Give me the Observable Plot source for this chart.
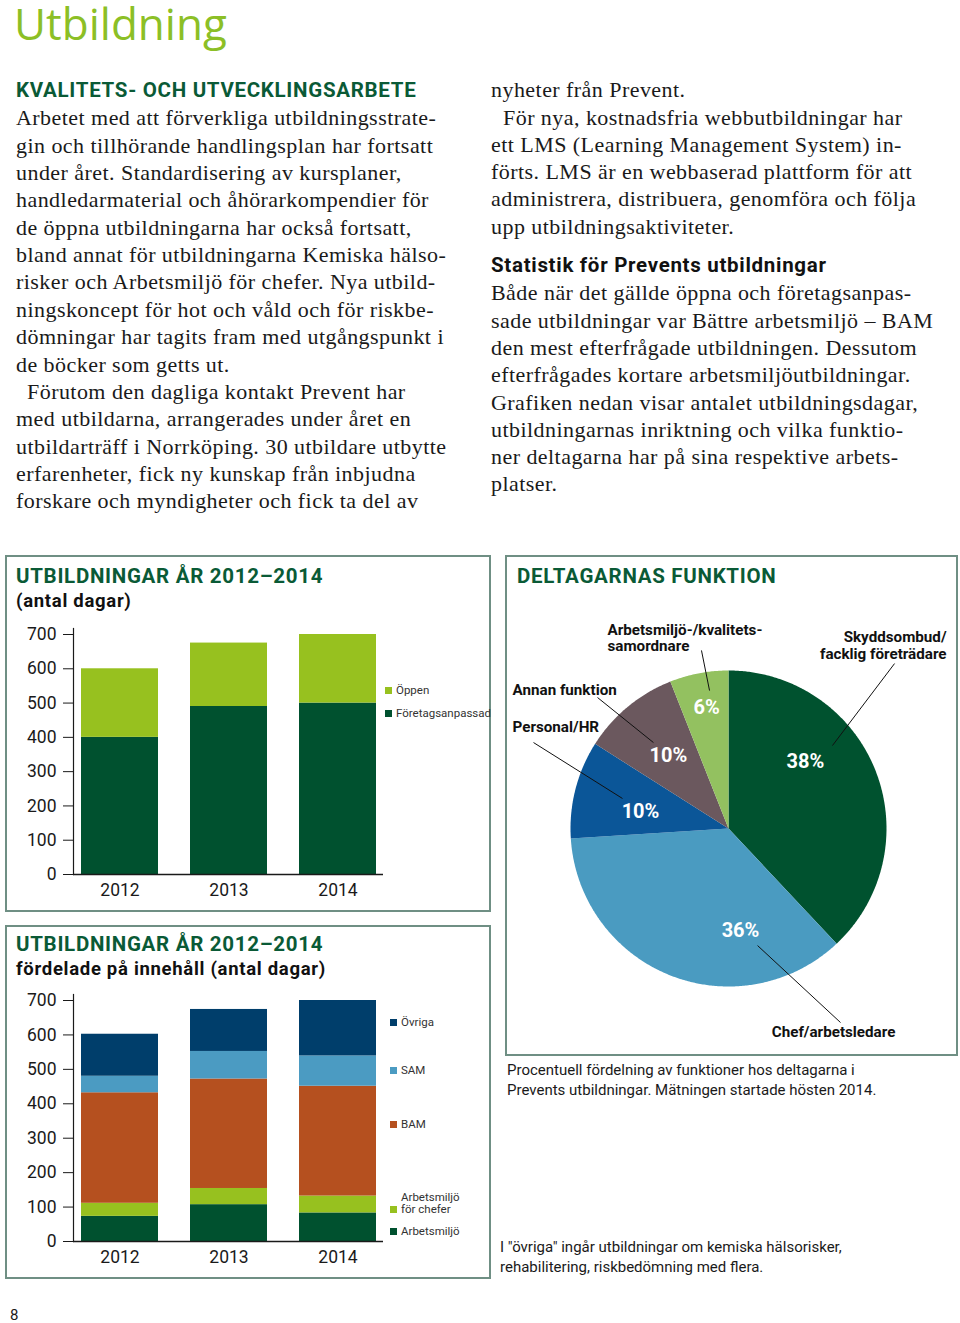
<!DOCTYPE html>
<html><head><meta charset="utf-8">
<script src="https://cdn.jsdelivr.net/npm/d3@7"></script>
<script src="https://cdn.jsdelivr.net/npm/@observablehq/plot@0.6"></script>
<style>
body{margin:0;background:#fff;}
#page{position:relative;width:960px;height:1323px;overflow:hidden;font-family:Roboto, sans-serif;color:#1a1a1a;}
.abs{position:absolute;white-space:nowrap;}
.serif{font-family:"Liberation Serif", serif;font-size:22px;letter-spacing:0.45px;color:#1a1a1a;}
.h{font-family:Roboto, sans-serif;font-weight:700;font-size:20.5px;letter-spacing:0.7px;color:#0a5a36;}
.sub{font-family:Roboto, sans-serif;font-weight:700;font-size:18.5px;letter-spacing:0.7px;color:#111;}
.box{position:absolute;border:2px solid #6f8f84;box-sizing:border-box;}
.leg{font-family:Roboto, sans-serif;font-size:11.5px;color:#333;line-height:12px;}
.sq{position:absolute;width:7px;height:7px;}
</style></head>
<body><div id="page"></div>
<script>
// ---------- DATA ----------
const years = ["2012", "2013", "2014"];
const yTicks = [0, 100, 200, 300, 400, 500, 600, 700];

// Chart 1: antal dagar
const typeNames = ["Företagsanpassad", "Öppen"];
const foretagsanpassad = [400, 490, 500];
const oppen = [200, 185, 200];
const typeColors = ["#00512f", "#97c11f"];

// Chart 2: fördelade på innehåll
const contentNames = ["Arbetsmiljö", "Arbetsmiljö för chefer", "BAM", "SAM", "Övriga"];
const contentLegend = ["Arbetsmiljö", "Arbetsmiljö<br>för chefer", "BAM", "SAM", "Övriga"];
const arbetsmiljo = [73, 107, 83];
const arbetsmiljoChefer = [38, 47, 49];
const bam = [321, 318, 319];
const sam = [48, 80, 88];
const ovriga = [122, 122, 161];
const contentColors = ["#00512f", "#97c11f", "#b5501f", "#4b9bc2", "#003e6b"];

// Pie: deltagarnas funktion (%)
const pieNames = ["Skyddsombud/\nfacklig företrädare", "Chef/arbetsledare", "Personal/HR", "Annan funktion", "Arbetsmiljö-/kvalitets-\nsamordnare"];
const pieValues = [38, 36, 10, 10, 6];
const pieColors = ["#00522f", "#4a9bc1", "#0b5698", "#6b585e", "#93c160"];

// ---------- LAYOUT (positions only) ----------
const pieLabelLayout = [
  {x: 1.380, y: 1.161, anchor: "end"},
  {x: 0.665, y: -1.285, anchor: "middle"},
  {x: -1.367, y: 0.646, anchor: "start"},
  {x: -1.367, y: 0.880, anchor: "start"},
  {x: -0.766, y: 1.206, anchor: "start"}
];
const piePctLayout = [[0.487, 0.424], [0.076, -0.646], [-0.557, 0.108], [-0.380, 0.462], [-0.139, 0.766]];
const pieLeaderLayout = [
  [1.051, 1.044, 0.658, 0.525],
  [0.184, -0.741, 0.709, -1.228],
  [-1.234, 0.544, -0.671, 0.190],
  [-0.829, 0.829, -0.475, 0.544],
  [-0.171, 1.127, -0.120, 0.873]
];

const page = document.getElementById("page");
function el(tag, cls, css, html) {
  const e = document.createElement(tag);
  if (cls) e.className = cls;
  Object.assign(e.style, css || {});
  if (html != null) e.innerHTML = html;
  page.appendChild(e);
  return e;
}
// yc = centre of the first line
function textAt(html, x, yc, lh, cls, css) {
  return el("div", "abs " + (cls || ""), Object.assign({left: x + "px", top: (yc - lh / 2) + "px", lineHeight: lh + "px"}, css || {}), html);
}

// ---------- PAGE TEXT ----------
el("div", "abs", {left: "14px", top: "1px", lineHeight: "44px", fontFamily: "'Open Sans', sans-serif", fontSize: "44px", color: "#8cbf26"}, "Utbildning");
textAt("KVALITETS- OCH UTVECKLINGSARBETE", 16, 90, 24, "h");
const leftLines = [
  "Arbetet med att förverkliga utbildningsstrate-",
  "gin och tillhörande handlingsplan har fortsatt",
  "under året. Standardisering av kursplaner,",
  "handledarmaterial och åhörarkompendier för",
  "de öppna utbildningarna har också fortsatt,",
  "bland annat för utbildningarna Kemiska hälso-",
  "risker och Arbetsmiljö för chefer. Nya utbild-",
  "ningskoncept för hot och våld och för riskbe-",
  "dömningar har tagits fram med utgångspunkt i",
  "de böcker som getts ut.",
  "<span style='padding-left:11px'></span>Förutom den dagliga kontakt Prevent har",
  "med utbildarna, arrangerades under året en",
  "utbildarträff i Norrköping. 30 utbildare utbytte",
  "erfarenheter, fick ny kunskap från inbjudna",
  "forskare och myndigheter och fick ta del av"
];
textAt(leftLines.join("<br>"), 16, 118, 27.36, "serif");
const rightLines1 = [
  "nyheter från Prevent.",
  "<span style='padding-left:12px'></span>För nya, kostnadsfria webbutbildningar har",
  "ett LMS (Learning Management System) in-",
  "förts. LMS är en webbaserad plattform för att",
  "administrera, distribuera, genomföra och följa",
  "upp utbildningsaktiviteter."
];
textAt(rightLines1.join("<br>"), 491, 90, 27.24, "serif");
textAt("Statistik för Prevents utbildningar", 491, 265, 24, "h", {color: "#111"});
const rightLines2 = [
  "Både när det gällde öppna och företagsanpas-",
  "sade utbildningar var Bättre arbetsmiljö – BAM",
  "den mest efterfrågade utbildningen. Dessutom",
  "efterfrågades kortare arbetsmiljöutbildningar.",
  "Grafiken nedan visar antalet utbildningsdagar,",
  "utbildningarnas inriktning och vilka funktio-",
  "ner deltagarna har på sina respektive arbets-",
  "platser."
];
textAt(rightLines2.join("<br>"), 491, 293, 27.3, "serif");

// ---------- BOXES ----------
el("div", "box", {left: "5px", top: "555px", width: "486px", height: "357px"});
el("div", "box", {left: "5px", top: "925px", width: "486px", height: "354px"});
el("div", "box", {left: "505px", top: "555px", width: "453px", height: "501px"});

textAt("UTBILDNINGAR ÅR 2012–2014", 16, 576, 24, "h");
textAt("(antal dagar)", 16, 601, 22, "sub");
textAt("UTBILDNINGAR ÅR 2012–2014", 16, 944, 24, "h");
textAt("fördelade på innehåll (antal dagar)", 16, 969, 22, "sub");
textAt("DELTAGARNAS FUNKTION", 517, 576, 24, "h");

textAt("Procentuell fördelning av funktioner hos deltagarna i<br>Prevents utbildningar. Mätningen startade hösten 2014.", 507, 1070, 20, "", {fontSize: "15px", color: "#1a1a1a"});
textAt("I \"övriga\" ingår utbildningar om kemiska hälsorisker,<br>rehabilitering, riskbedömning med flera.", 500, 1248, 19.5, "", {fontSize: "15px", color: "#1a1a1a"});
textAt("8", 10, 1315, 18, "", {fontSize: "15px", color: "#1a1a1a"});

// ---------- BAR CHARTS ----------
function barChart(series, names, colors, marginTop, marginBottom) {
  const rows = [];
  names.forEach((n, i) => years.forEach((y, j) => rows.push({year: y, cat: n, value: series[i][j]})));
  return Plot.plot({
    width: 490, height: 290,
    marginLeft: 73, marginRight: 107, marginTop, marginBottom,
    x: {domain: years, paddingInner: 0.29, paddingOuter: 0, insetLeft: 7, insetRight: 5, label: null},
    y: {domain: [0, 700], insetTop: 6, label: null},
    color: {domain: names, range: colors},
    marks: [
      Plot.barY(rows, {x: "year", y: "value", fill: "cat"}),
      Plot.axisY({ticks: yTicks, tickSize: 10, tickPadding: 7, label: null, tickFormat: d => String(d)}),
      Plot.axisX({tickSize: 0, tickPadding: 9, label: null}),
      Plot.ruleY([0], {stroke: "#1a1a1a", strokeWidth: 1.5}),
      Plot.frame({anchor: "left", stroke: "#1a1a1a", strokeWidth: 1.2})
    ],
    style: {fontFamily: "Roboto, sans-serif", fontSize: "17.5px", color: "#1a1a1a", background: "none", overflow: "visible"}
  });
}
const c1 = barChart([foretagsanpassad, oppen], typeNames, typeColors, 8, 36);
Object.assign(c1.style, {position: "absolute", left: "0px", top: "620px"});
page.appendChild(c1);
const c2 = barChart([arbetsmiljo, arbetsmiljoChefer, bam, sam, ovriga], contentNames, contentColors, 4, 39);
Object.assign(c2.style, {position: "absolute", left: "0px", top: "990px"});
page.appendChild(c2);

// legends
const leg1Y = [713, 690];
typeNames.forEach((n, i) => {
  el("div", "sq", {left: "385px", top: (leg1Y[i] - 3.5) + "px", background: typeColors[i]});
  textAt(n, 396, leg1Y[i], 12, "leg");
});
const leg2Y = [1231, 1197, 1124, 1070, 1022];
contentNames.forEach((n, i) => {
  el("div", "sq", {left: "390px", top: (leg2Y[i] + (i === 1 ? 12 : 0) - 3.5) + "px", background: contentColors[i]});
  textAt(contentLegend[i], 401, leg2Y[i], 12, "leg");
});

// ---------- PIE ----------
const pieRows = [];
let acc = 0;
pieValues.forEach((v, i) => {
  const a0 = acc / 100 * 2 * Math.PI, a1 = (acc + v) / 100 * 2 * Math.PI;
  acc += v;
  pieRows.push({name: pieNames[i], px: 0, py: 0});
  const steps = Math.max(4, Math.round(v * 7.2));
  for (let k = 0; k <= steps; k++) {
    const a = a0 + (a1 - a0) * k / steps;
    pieRows.push({name: pieNames[i], px: Math.sin(a), py: Math.cos(a)});
  }
});
const labelRows = pieNames.map((n, i) => ({name: n, x: pieLabelLayout[i].x, y: pieLabelLayout[i].y, anchor: pieLabelLayout[i].anchor}));
const pctRows = pieValues.map((v, i) => ({text: v + "%", x: piePctLayout[i][0], y: piePctLayout[i][1]}));
const leaderRows = pieLeaderLayout.map(d => ({x1: d[0], y1: d[1], x2: d[2], y2: d[3]}));
const labelStyle = {x: "x", y: "y", text: "name", fontWeight: 700, fontSize: 15.2, lineHeight: 1.08, fill: "#111", lineAnchor: "middle"};
const pie = Plot.plot({
  width: 450, height: 450,
  marginLeft: 64, marginRight: 70, marginTop: 70, marginBottom: 64,
  x: {domain: [-1, 1], axis: null},
  y: {domain: [-1, 1], axis: null},
  color: {domain: pieNames, range: pieColors},
  marks: [
    Plot.line(pieRows, {x: "px", y: "py", z: "name", fill: "name", stroke: "none", curve: "linear-closed"}),
    Plot.link(leaderRows, {x1: "x1", y1: "y1", x2: "x2", y2: "y2", stroke: "#111", strokeWidth: 1}),
    Plot.text(labelRows.filter(d => d.anchor === "start"), {...labelStyle, textAnchor: "start"}),
    Plot.text(labelRows.filter(d => d.anchor === "end"), {...labelStyle, textAnchor: "end"}),
    Plot.text(labelRows.filter(d => d.anchor === "middle"), {...labelStyle, textAnchor: "middle"}),
    Plot.text(pctRows, {x: "x", y: "y", text: "text", fill: "white", fontWeight: 700, fontSize: 20})
  ],
  style: {fontFamily: "Roboto, sans-serif", background: "none", overflow: "visible"}
});
Object.assign(pie.style, {position: "absolute", left: "506px", top: "600px"});
page.appendChild(pie);
</script>
</body></html>
